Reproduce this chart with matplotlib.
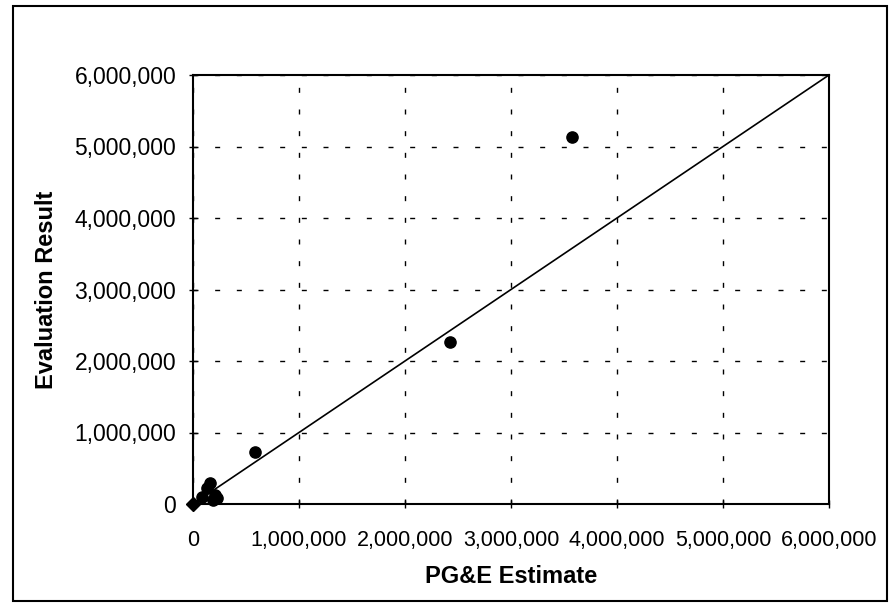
import matplotlib.pyplot as plt
from matplotlib.patches import Rectangle
from matplotlib.ticker import FuncFormatter

# -----------------------------
# DATA
# -----------------------------
pge_estimate = [85000, 130000, 160000, 190000, 210000, 230000, 585000, 2420000, 3575000]
eval_result = [100000, 220000, 290000, 60000, 130000, 80000, 730000, 2270000, 5130000]
line_x = [0, 6000000]
line_y = [0, 6000000]
ticks = [0, 1000000, 2000000, 3000000, 4000000, 5000000, 6000000]

plt.rcParams['font.family'] = ['Liberation Sans', 'DejaVu Sans']

fig = plt.figure(figsize=(8.92, 6.07), dpi=100)
ax = fig.add_axes([193 / 892, 1 - 504 / 607, (829 - 193) / 892, (504 - 75) / 607])

# outer border around the whole chart
fig.patches.append(Rectangle((13 / 892, 1 - 601 / 607), 874 / 892, 595 / 607,
                             transform=fig.transFigure, fill=False,
                             edgecolor='black', linewidth=1.5))

# 1:1 line, diamond at the origin
ax.plot(line_x, line_y, color='black', linewidth=1.2, zorder=3,
        marker='D', markersize=7, markevery=[0], clip_on=False)
ax.scatter(pge_estimate, eval_result, s=65, color='black', zorder=4, clip_on=False)

ax.set_xlim(0, 6000000)
ax.set_ylim(0, 6000000)
ax.set_xticks(ticks)
ax.set_yticks(ticks)
fmt = FuncFormatter(lambda v, p: f"{int(v):,}")
ax.xaxis.set_major_formatter(fmt)
ax.yaxis.set_major_formatter(fmt)
ax.tick_params(length=6, width=1, direction='inout')
ax.tick_params(axis='x', labelsize=15.5, pad=16)
ax.tick_params(axis='y', labelsize=16.5, pad=9)

ax.grid(True, color='black', linestyle=(0, (3.6, 12)), linewidth=1)
ax.set_axisbelow(True)
for s in ax.spines.values():
    s.set_linewidth(1.5)

ax.set_xlabel("PG&E Estimate", fontsize=17, fontweight='bold', labelpad=10)
ax.set_ylabel("Evaluation Result", fontsize=17, fontweight='bold', labelpad=12)

fig.savefig("out.png", dpi=100)
